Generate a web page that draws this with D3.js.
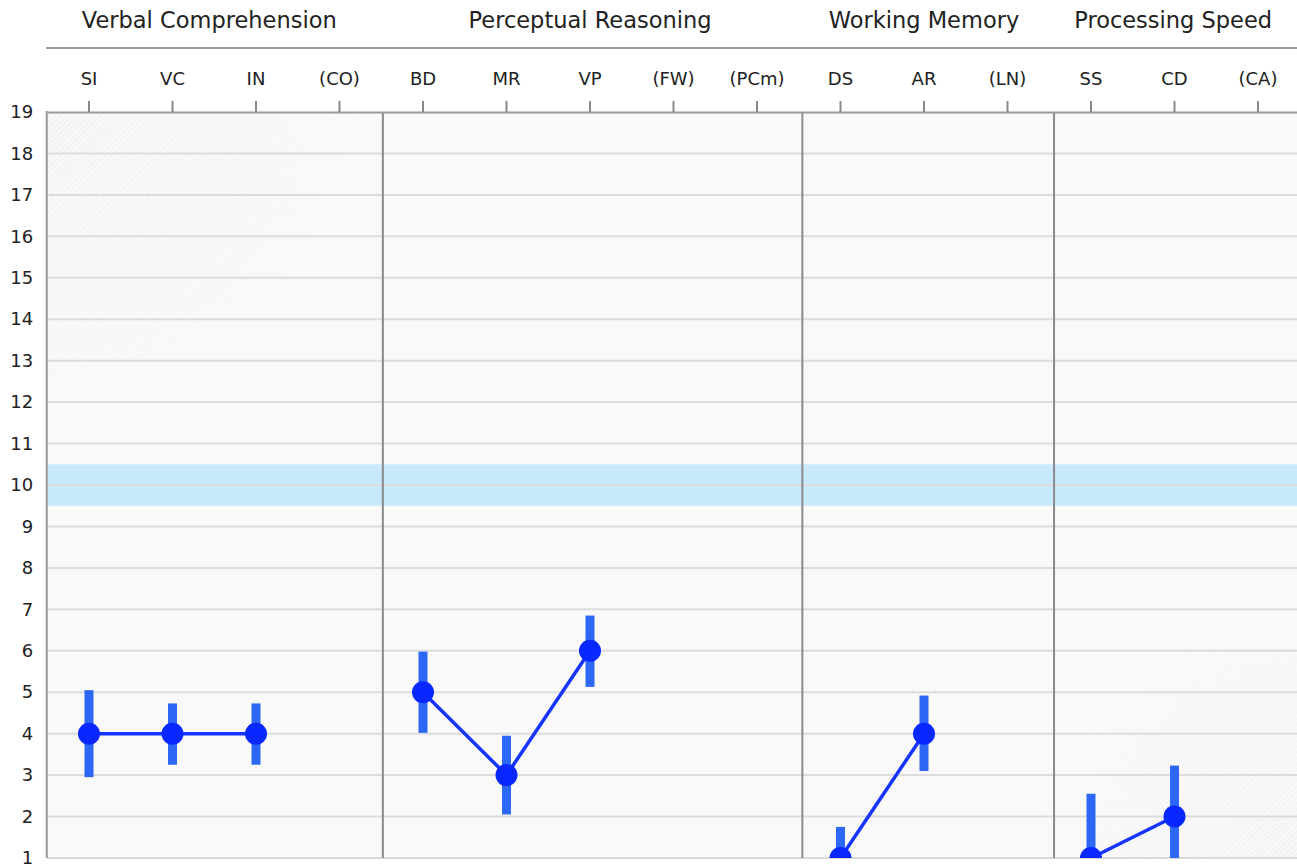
<!DOCTYPE html>
<html lang="en">
<head>
  <meta charset="UTF-8">
  <title>Subtest scaled score profile</title>
  <script src="https://d3js.org/d3.v7.min.js"></script>
  <style>
    body { margin: 0; background: #fff; }
    text { font-family: "DejaVu Sans", Verdana, sans-serif; fill: #222; }
  </style>
</head>
<body>
  <div id="chart"></div>

  <script>

    // data
    var subtests = ["SI", "VC", "IN", "(CO)", "BD", "MR", "VP", "(FW)", "(PCm)", "DS", "AR", "(LN)", "SS", "CD", "(CA)"];
    var groupNames = ["Verbal Comprehension", "Perceptual Reasoning", "Working Memory", "Processing Speed"];
    var groupSizes = [4, 5, 3, 3];
    var scores = [4, 4, 4, null, 5, 3, 6, null, null, 1, 4, null, 1, 2, null];
    var ciLow  = [2.95, 3.25, 3.25, null, 4.02, 2.05, 5.13, null, null, 0.25, 3.1, null, -0.55, 0.77, null];
    var ciHigh = [5.05, 4.73, 4.73, null, 5.98, 3.95, 6.85, null, null, 1.75, 4.92, null, 2.55, 3.23, null];
    var yTicks = d3.range(1, 20);
    var averageBand = [9.5, 10.5];

    var w = 1297, h = 867;
    var plotL = 47.25, plotR = 1299.75, plotT = 112, plotB = 858;

    var svg = d3.select("#chart").append("svg")
      .attr("width", w)
      .attr("height", h);

    var x = d3.scaleBand()
      .domain(subtests)
      .range([plotL, plotR]);

    var y = d3.scaleLinear()
      .domain([1, 19])
      .range([plotB, plotT]);

    var cx = function(d) { return x(d) + x.bandwidth() / 2; };

    // group index per subtest
    var groupOf = [];
    groupSizes.forEach(function(n, g) {
      for (var i = 0; i < n; i++) groupOf.push(g);
    });
    var groupStart = groupSizes.map(function(n, g) {
      return d3.sum(groupSizes.slice(0, g));
    });

    // plot background
    var defs = svg.append("defs");
    defs.append("clipPath").attr("id", "plot-clip")
      .append("rect")
      .attr("x", plotL).attr("y", plotT)
      .attr("width", plotR - plotL).attr("height", plotB - plotT);

    var hatch = defs.append("pattern")
      .attr("id", "hatch")
      .attr("patternUnits", "userSpaceOnUse")
      .attr("width", 4).attr("height", 4)
      .attr("patternTransform", "rotate(-45)");
    hatch.append("rect").attr("width", 4).attr("height", 1.5).attr("fill", "#e6e6e6");

    var fadeTL = defs.append("radialGradient").attr("id", "fade-tl")
      .attr("gradientUnits", "userSpaceOnUse")
      .attr("cx", plotL).attr("cy", plotT).attr("r", 330);
    fadeTL.append("stop").attr("offset", "0%").attr("stop-color", "#fff").attr("stop-opacity", 0.9);
    fadeTL.append("stop").attr("offset", "100%").attr("stop-color", "#fff").attr("stop-opacity", 0);

    var fadeBR = defs.append("radialGradient").attr("id", "fade-br")
      .attr("gradientUnits", "userSpaceOnUse")
      .attr("cx", plotR).attr("cy", plotB).attr("r", 260);
    fadeBR.append("stop").attr("offset", "0%").attr("stop-color", "#fff").attr("stop-opacity", 0.9);
    fadeBR.append("stop").attr("offset", "100%").attr("stop-color", "#fff").attr("stop-opacity", 0);

    var mask = defs.append("mask").attr("id", "hatch-mask")
      .attr("maskUnits", "userSpaceOnUse")
      .attr("x", 0).attr("y", 0).attr("width", w).attr("height", h);
    mask.append("rect").attr("x", 0).attr("y", 0).attr("width", w).attr("height", h).attr("fill", "url(#fade-tl)");
    mask.append("rect").attr("x", 0).attr("y", 0).attr("width", w).attr("height", h).attr("fill", "url(#fade-br)");

    svg.append("rect")
      .attr("x", plotL).attr("y", plotT)
      .attr("width", plotR - plotL).attr("height", plotB - plotT)
      .attr("fill", "#f9f9f9");

    svg.append("rect")
      .attr("x", plotL).attr("y", plotT)
      .attr("width", plotR - plotL).attr("height", plotB - plotT)
      .attr("fill", "url(#hatch)")
      .attr("mask", "url(#hatch-mask)")
      .attr("opacity", 0.55);

    // average band
    svg.append("rect")
      .attr("x", plotL)
      .attr("y", y(averageBand[1]))
      .attr("width", plotR - plotL)
      .attr("height", y(averageBand[0]) - y(averageBand[1]))
      .attr("fill", "#c8e8fb");

    // horizontal grid
    svg.append("g")
      .attr("class", "grid")
      .selectAll("line")
      .data(yTicks.slice(1, -1))
      .enter().append("line")
      .attr("x1", plotL).attr("x2", plotR)
      .attr("y1", function(d) { return y(d); })
      .attr("y2", function(d) { return y(d); })
      .attr("stroke", "#dcdcdc")
      .attr("stroke-width", 2);

    // bottom line
    svg.append("line")
      .attr("x1", plotL).attr("x2", plotR)
      .attr("y1", plotB).attr("y2", plotB)
      .attr("stroke", "#d8d8d8").attr("stroke-width", 2);

    // group separators (sit a little right of the band edge, more so further right)
    svg.append("g")
      .selectAll("line")
      .data(groupStart.slice(1))
      .enter().append("line")
      .attr("x1", function(d) { return x(subtests[d]) + d * 0.4; })
      .attr("x2", function(d) { return x(subtests[d]) + d * 0.4; })
      .attr("y1", plotT).attr("y2", plotB)
      .attr("stroke", "#8a8a8a")
      .attr("stroke-width", 2);

    // left border
    svg.append("line")
      .attr("x1", plotL - 0.5).attr("x2", plotL - 0.5)
      .attr("y1", plotT - 1).attr("y2", plotB)
      .attr("stroke", "#999").attr("stroke-width", 2);

    // top axis with subtest ticks
    var xAxisTop = d3.axisTop(x).tickSize(11).tickPadding(16).tickSizeOuter(0);
    var topAxis = svg.append("g")
      .attr("transform", "translate(0," + plotT + ")")
      .call(xAxisTop);
    topAxis.select(".domain").attr("stroke", "#999").attr("stroke-width", 2);
    topAxis.selectAll(".tick line").attr("stroke", "#888").attr("stroke-width", 2);
    topAxis.selectAll(".tick text")
      .attr("font-size", 18)
      .attr("font-family", "DejaVu Sans, sans-serif")
      .attr("fill", "#222");

    // y axis labels
    var yAxis = d3.axisLeft(y).tickValues(yTicks).tickSize(0).tickPadding(14);
    var leftAxis = svg.append("g")
      .attr("transform", "translate(" + plotL + ",0)")
      .call(yAxis);
    leftAxis.select(".domain").remove();
    leftAxis.selectAll(".tick text")
      .attr("font-size", 18)
      .attr("font-family", "DejaVu Sans, sans-serif")
      .attr("fill", "#222");

    // header line and group titles
    svg.append("line")
      .attr("x1", plotL - 1).attr("x2", w)
      .attr("y1", 48).attr("y2", 48)
      .attr("stroke", "#999").attr("stroke-width", 2);

    svg.append("g")
      .selectAll("text")
      .data(groupNames)
      .enter().append("text")
      .attr("x", function(d, g) {
        var a = x(subtests[groupStart[g]]);
        var b = Math.min(x(subtests[groupStart[g] + groupSizes[g] - 1]) + x.bandwidth(), w);
        return (a + b) / 2 - (g === 0 ? 5 : 0);
      })
      .attr("y", 28)
      .attr("text-anchor", "middle")
      .attr("font-size", 22.5)
      .text(function(d) { return d; });

    // data marks
    var plot = svg.append("g").attr("clip-path", "url(#plot-clip)");

    var pts = subtests.map(function(s, i) {
      return { name: s, i: i, group: groupOf[i], score: scores[i], lo: ciLow[i], hi: ciHigh[i] };
    }).filter(function(d) { return d.score !== null; });

    // confidence bars
    plot.selectAll(".ci")
      .data(pts)
      .enter().append("rect")
      .attr("class", "ci")
      .attr("x", function(d) { return cx(d.name) - 4.5; })
      .attr("width", 9)
      .attr("y", function(d) { return y(d.hi); })
      .attr("height", function(d) { return y(d.lo) - y(d.hi); })
      .attr("fill", "#2c68f5");

    // lines within each group
    var lineGenerator = d3.line()
      .x(function(d) { return cx(d.name); })
      .y(function(d) { return y(d.score); });

    var byGroup = d3.groups(pts, function(d) { return d.group; });
    plot.selectAll(".profile")
      .data(byGroup)
      .enter().append("path")
      .attr("class", "profile")
      .attr("d", function(d) { return lineGenerator(d[1]); })
      .attr("fill", "none")
      .attr("stroke", "#1434ff")
      .attr("stroke-width", 3.5);

    plot.selectAll(".dot")
      .data(pts)
      .enter().append("circle")
      .attr("class", "dot")
      .attr("cx", function(d) { return cx(d.name); })
      .attr("cy", function(d) { return y(d.score); })
      .attr("r", 11)
      .attr("fill", "#0828ff");

  </script>
</body>
</html>
